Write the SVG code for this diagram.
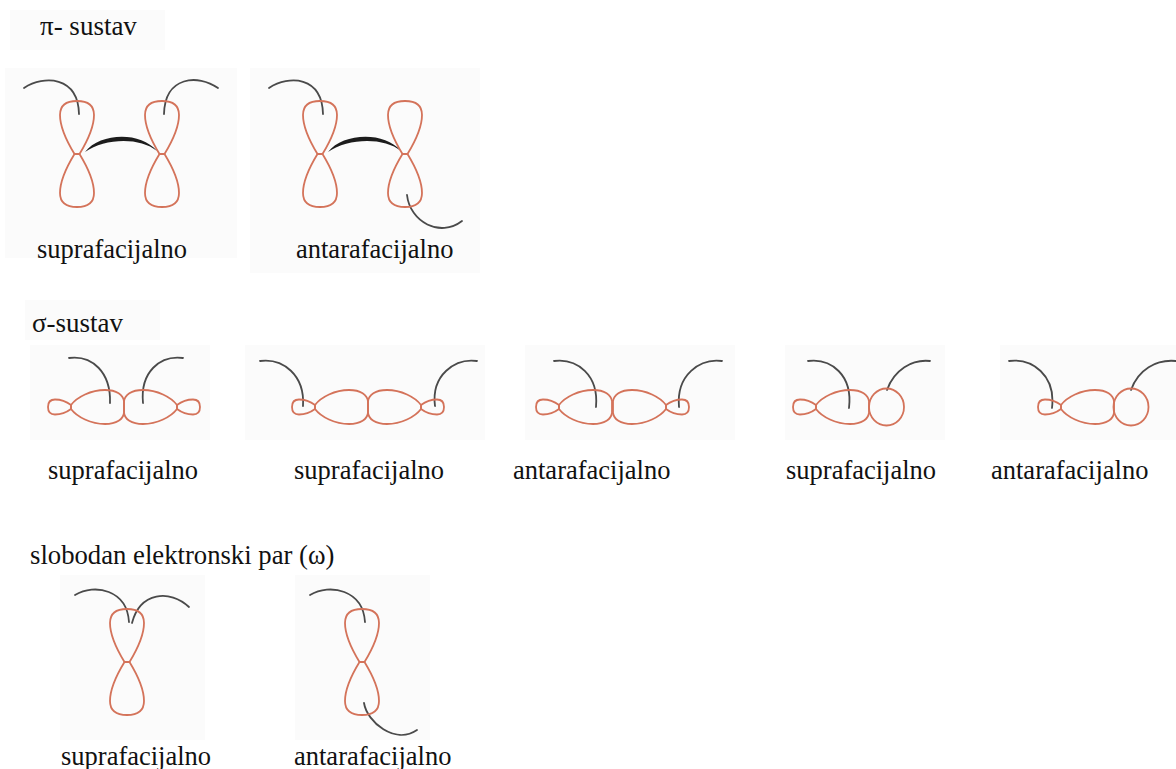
<svg xmlns="http://www.w3.org/2000/svg" width="1176" height="769" viewBox="0 0 1176 769">
<style>
.bg{fill:#fbfbfb;stroke:none}
.o{fill:none;stroke:#d4735a;stroke-width:1.8;stroke-linejoin:round}
.a{fill:none;stroke:#4a4a4a;stroke-width:1.8;stroke-linecap:round}
.b{fill:#1c1c1c;stroke:none}
text{font-family:"Liberation Serif","Times New Roman",serif;font-size:26.5px;fill:#111}
.h{font-size:27px}
.w{font-size:26.7px}
</style>
<defs>
<path id="lobe" d="M-2.5,0 C-8,-9 -17,-25 -17,-39 C-17,-49 -10,-53 0,-53 C10,-53 17,-49 17,-39 C17,-25 8,-9 2.5,0 Z"/>
<path id="hlobe" d="M0,-2 C6,-10 20,-17 34,-17 C46,-17 52,-12 53,-6 L53,6 C52,12 46,17 34,17 C20,17 6,10 0,2 Z"/>
<path id="slobe" d="M0,-2 C-4,-5 -10,-7.5 -16,-7.5 C-21,-7.5 -23,-4 -23,0 C-23,4 -21,7.5 -16,7.5 C-10,7.5 -4,5 0,2 Z"/>
</defs>
<rect width="1176" height="769" fill="#fff"/>
<g id="background">
<rect class="bg" x="10" y="10" width="155" height="40"/>
<rect class="bg" x="5" y="68" width="232" height="190"/>
<rect class="bg" x="250" y="68" width="230" height="205"/>
<rect class="bg" x="25" y="300" width="135" height="40"/>
<rect class="bg" x="30" y="345" width="180" height="95"/>
<rect class="bg" x="245" y="345" width="240" height="95"/>
<rect class="bg" x="525" y="345" width="210" height="95"/>
<rect class="bg" x="785" y="345" width="160" height="95"/>
<rect class="bg" x="1000" y="345" width="176" height="95"/>
<rect class="bg" x="60" y="575" width="145" height="165"/>
<rect class="bg" x="295" y="575" width="135" height="165"/>
</g>
<g id="connectors">
<path class="a" d="M24,88 C44,75 78,76 79,114"/>
<path class="a" d="M218,88 C198,74 165,76 164,114"/>
<path class="a" d="M269,88 C289,75 322,76 323,114"/>
<path class="a" d="M407,195 C410,222 440,238 462,221"/>
<path class="b" d="M85,152 C100,133 140,131 157,151 C140,137 105,138 85,152 Z"/>
<path class="b" d="M328,152 C343,133 384,131 401,151 C384,137 348,138 328,152 Z"/>
<path class="a" d="M69,358 C92,355 111,372 110,403"/>
<path class="a" d="M183,358 C160,355 140,372 143,403"/>
<path class="a" d="M260,361 C283,358 305,375 303,406"/>
<path class="a" d="M477,361 C455,358 431,375 435,406"/>
<path class="a" d="M554,361 C577,358 599,375 596,407"/>
<path class="a" d="M722,361 C700,358 676,375 679,407"/>
<path class="a" d="M808,361 C831,358 853,375 849,408"/>
<path class="a" d="M930,361 C912,359 894,370 887,390"/>
<path class="a" d="M1009,361 C1032,358 1056,375 1052,408"/>
<path class="a" d="M1176,361 C1156,359 1138,370 1131,390"/>
<path class="a" d="M75,595 C95,583 127,590 129,622"/>
<path class="a" d="M189,607 C170,589 140,592 132,623"/>
<path class="a" d="M310,595 C330,583 363,590 365,622"/>
<path class="a" d="M364,703 C367,722 395,745 417,730"/>
</g>
<g id="pi-supra">
<use href="#lobe" class="o" transform="translate(77,154)"/>
<use href="#lobe" class="o" transform="translate(77,154) rotate(180)"/>
<use href="#lobe" class="o" transform="translate(162,154)"/>
<use href="#lobe" class="o" transform="translate(162,154) rotate(180)"/>
</g>
<g id="pi-antara">
<use href="#lobe" class="o" transform="translate(320,154)"/>
<use href="#lobe" class="o" transform="translate(320,154) rotate(180)"/>
<use href="#lobe" class="o" transform="translate(405,154)"/>
<use href="#lobe" class="o" transform="translate(405,154) rotate(180)"/>
</g>
<g id="sigma-1">
<use href="#slobe" class="o" transform="translate(71,407)"/>
<use href="#hlobe" class="o" transform="translate(71,407)"/>
<use href="#hlobe" class="o" transform="translate(177,407) scale(-1,1)"/>
<use href="#slobe" class="o" transform="translate(177,407) scale(-1,1)"/>
</g>
<g id="sigma-2">
<use href="#slobe" class="o" transform="translate(315,407)"/>
<use href="#hlobe" class="o" transform="translate(315,407)"/>
<use href="#hlobe" class="o" transform="translate(421,407) scale(-1,1)"/>
<use href="#slobe" class="o" transform="translate(421,407) scale(-1,1)"/>
</g>
<g id="sigma-3">
<use href="#slobe" class="o" transform="translate(559,407)"/>
<use href="#hlobe" class="o" transform="translate(559,407)"/>
<use href="#hlobe" class="o" transform="translate(666,407) scale(-1,1)"/>
<use href="#slobe" class="o" transform="translate(666,407) scale(-1,1)"/>
</g>
<g id="sigma-4">
<use href="#slobe" class="o" transform="translate(816,407)"/>
<use href="#hlobe" class="o" transform="translate(816,407)"/>
<ellipse class="o" cx="886.5" cy="407" rx="17.5" ry="18.5"/>
</g>
<g id="sigma-5">
<use href="#slobe" class="o" transform="translate(1061,407)"/>
<use href="#hlobe" class="o" transform="translate(1061,407)"/>
<ellipse class="o" cx="1131" cy="407" rx="17.5" ry="18.5"/>
</g>
<g id="omega-supra">
<use href="#lobe" class="o" transform="translate(127,662)"/>
<use href="#lobe" class="o" transform="translate(127,662) rotate(180)"/>
</g>
<g id="omega-antara">
<use href="#lobe" class="o" transform="translate(362,662)"/>
<use href="#lobe" class="o" transform="translate(362,662) rotate(180)"/>
</g>
<g id="labels">
<text class="h" x="40" y="35">π- sustav</text>
<text x="37" y="258">suprafacijalno</text>
<text x="296" y="258">antarafacijalno</text>
<text class="h" x="32" y="332">σ-sustav</text>
<text x="48" y="479">suprafacijalno</text>
<text x="294" y="479">suprafacijalno</text>
<text x="513" y="479">antarafacijalno</text>
<text x="786" y="479">suprafacijalno</text>
<text x="991" y="479">antarafacijalno</text>
<text class="w" x="30" y="564">slobodan elektronski par (ω)</text>
<text x="61" y="765">suprafacijalno</text>
<text x="294" y="765">antarafacijalno</text>
</g>
</svg>
